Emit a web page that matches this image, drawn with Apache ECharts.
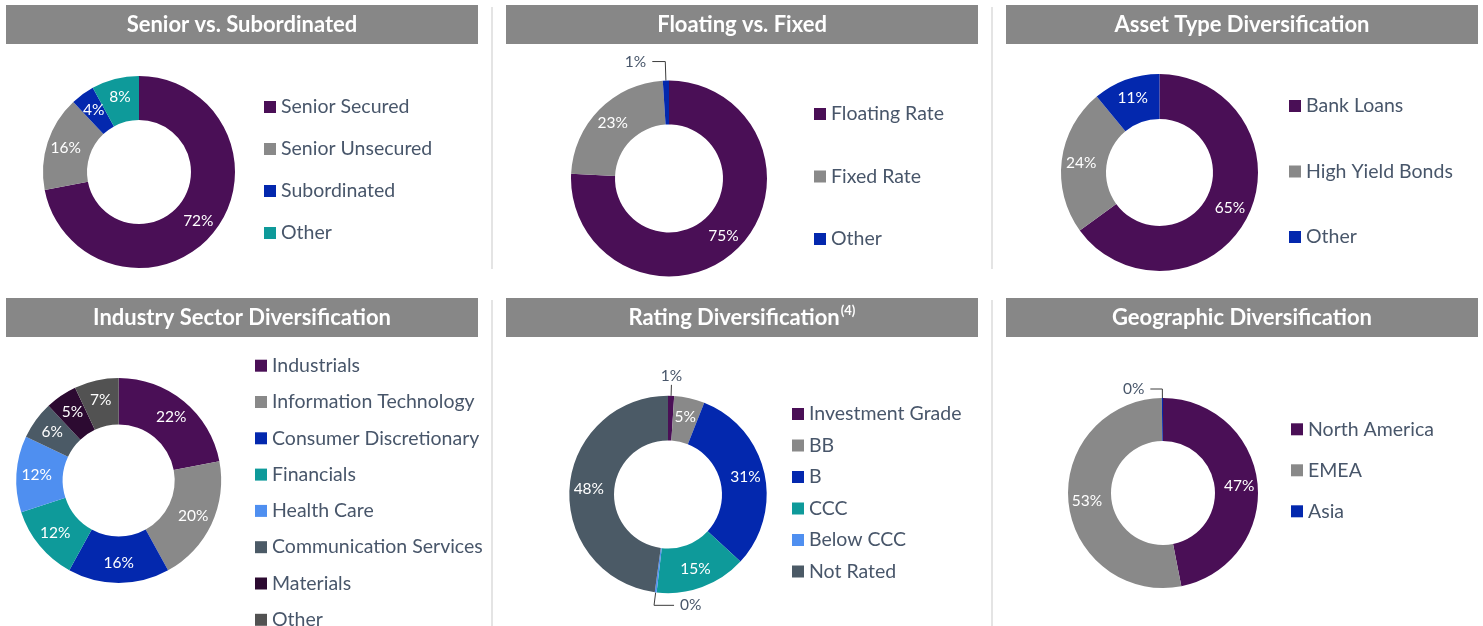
<!DOCTYPE html>
<html>
<head>
<meta charset="utf-8">
<script src="https://cdn.jsdelivr.net/npm/echarts@6/dist/echarts.min.js"></script>
<style>
  html, body { margin: 0; padding: 0; background: #fff; }
  #wrap { position: relative; width: 1483px; height: 626px; overflow: hidden; }
  .panel { position: absolute; width: 484px; }
  .divider { position: absolute; left: 491px; width: 2px; background: #e4e4e4; }
</style>
</head>
<body>
<div id="wrap">
  <div class="panel" id="p1" style="left:0;top:0;height:292px"></div>
  <div class="panel" id="p2" style="left:500px;top:0;height:292px"></div>
  <div class="panel" id="p3" style="left:1000px;top:0;height:292px"></div>
  <div class="panel" id="p4" style="left:0;top:292px;height:380px"></div>
  <div class="panel" id="p5" style="left:500px;top:292px;height:334px"></div>
  <div class="panel" id="p6" style="left:1000px;top:292px;height:334px"></div>
  <div class="divider" style="left:491px;top:7px;height:262px"></div>
  <div class="divider" style="left:991px;top:7px;height:262px"></div>
  <div class="divider" style="left:491px;top:300px;height:326px"></div>
  <div class="divider" style="left:991px;top:300px;height:326px"></div>
</div>
<script>
// data (percent of portfolio)
const seniorNames = ['Senior Secured', 'Senior Unsecured', 'Subordinated', 'Other']
const seniorValues = [72, 16, 4, 8]

const rateNames = ['Floating Rate', 'Fixed Rate', 'Other']
const rateValues = [75, 23, 1]

const assetNames = ['Bank Loans', 'High Yield Bonds', 'Other']
const assetValues = [65, 24, 11]

const sectorNames = ['Industrials', 'Information Technology', 'Consumer Discretionary', 'Financials',
  'Health Care', 'Communication Services', 'Materials', 'Other']
const sectorValues = [22, 20, 16, 12, 12, 6, 5, 7]

const ratingNames = ['Investment Grade', 'BB', 'B', 'CCC', 'Below CCC', 'Not Rated']
const ratingValues = [1, 5, 31, 15, 0.3, 48]

const geoNames = ['North America', 'EMEA', 'Asia']
const geoValues = [47, 53, 0.2]

// colours
const PURPLE = '#4a0f56', GRAY = '#898989', BLUE = '#0328ae', TEAL = '#0e9a9a'
const SKY = '#4f8ff0', SLATE = '#4b5a66', PLUM = '#2c0a31', DARK = '#525252'
const TEXT = '#48566a'
const FONT = 'Lato, "Open Sans", sans-serif'

const panels = [
  { el: 'p1', title: 'Senior vs. Subordinated', names: seniorNames, values: seniorValues,
    colors: [PURPLE, GRAY, BLUE, TEAL], barTop: 5,
    center: [139, 172], radius: [52, 96], legend: { left: 264, top: 97, gap: 22 } },
  { el: 'p2', title: 'Floating vs. Fixed', names: rateNames, values: rateValues,
    colors: [PURPLE, GRAY, BLUE], barTop: 5,
    center: [169, 178.5], radius: [54, 98], legend: { left: 314, top: 104, gap: 42.5 },
    outside: { 2: { mode: 'side', length: 19, length2: 13 } } },
  { el: 'p3', title: 'Asset Type Diversification', names: assetNames, values: assetValues,
    colors: [PURPLE, GRAY, BLUE], barTop: 5,
    center: [159.5, 172.5], radius: [53.5, 98.5], legend: { left: 289, top: 96, gap: 45.5 } },
  { el: 'p4', title: 'Industry Sector Diversification', names: sectorNames, values: sectorValues,
    colors: [PURPLE, GRAY, BLUE, TEAL, SKY, SLATE, PLUM, DARK], barTop: 6,
    center: [118.7, 188.5], radius: [56, 102.5], legend: { left: 255, top: 63.7, gap: 16.3 } },
  { el: 'p5', title: '{a|Rating Diversification}{sup|(4)}', names: ratingNames, values: ratingValues,
    colors: [PURPLE, GRAY, BLUE, TEAL, SKY, SLATE], barTop: 6,
    center: [168, 202.5], radius: [54, 98.7], legend: { left: 292, top: 112, gap: 11.5 },
    outside: { 0: { mode: 'center', length: 11, length2: 0 }, 4: { mode: 'flip', length: 13, length2: 20 } } },
  { el: 'p6', title: 'Geographic Diversification', names: geoNames, values: geoValues,
    colors: [PURPLE, GRAY, BLUE], barTop: 6,
    center: [163, 201], radius: [52, 95], legend: { left: 291, top: 127.3, gap: 21 },
    outside: { 2: { mode: 'side', length: 9, length2: 12 } } }
]

function buildChart(p) {
  const chart = echarts.init(document.getElementById(p.el), null, { renderer: 'canvas' })
  const outside = p.outside || {}

  const data = p.names.map((name, i) => {
    const item = { name: name, value: p.values[i], itemStyle: { color: p.colors[i] } }
    const o = outside[i]
    if (o) {
      item.label = { position: 'outside', color: TEXT, distanceToLabelLine: 6 }
      item.labelLine = { show: true, length: o.length, length2: o.length2,
        lineStyle: { color: '#3c3c3c', width: 1 } }
    }
    return item
  })

  chart.setOption({
    animation: false,
    graphic: [{
      type: 'rect',
      shape: { x: 6, y: p.barTop, width: 472, height: 39 },
      style: { fill: '#878787' },
      z: -1
    }],
    title: {
      text: p.title,
      left: 'center',
      top: p.barTop,
      padding: 0,
      textStyle: {
        color: '#fff', fontSize: 22, fontWeight: 'bold', fontFamily: FONT, lineHeight: 39,
        rich: {
          a: { color: '#fff', fontSize: 22, fontWeight: 'bold', fontFamily: FONT, lineHeight: 39 },
          sup: { color: '#fff', fontSize: 13, fontWeight: 'bold', fontFamily: FONT,
            lineHeight: 13, verticalAlign: 'top', padding: [6, 0, 0, 1] }
        }
      }
    },
    legend: {
      orient: 'vertical',
      left: p.legend.left,
      top: p.legend.top,
      padding: 0,
      itemWidth: 12,
      itemHeight: 12,
      itemGap: p.legend.gap,
      icon: 'rect',
      data: p.names,
      textStyle: { color: TEXT, fontSize: 19.5, fontFamily: FONT, lineHeight: 20 }
    },
    series: [{
      type: 'pie',
      center: p.center,
      radius: p.radius,
      startAngle: 90,
      clockwise: true,
      avoidLabelOverlap: false,
      label: {
        show: true,
        position: 'inside',
        color: '#fff',
        fontSize: 15.5,
        fontFamily: FONT,
        formatter: (prm) => Math.round(prm.value) + '%'
      },
      labelLine: { show: false },
      labelLayout: function (prm) {
        const o = outside[prm.dataIndex]
        const pts = prm.labelLinePoints
        if (!o || !pts) return {}
        if (o.mode === 'center') {
          return { x: pts[1][0], y: pts[1][1] - 1, align: 'center', verticalAlign: 'bottom',
            labelLinePoints: [pts[0], pts[1], pts[1]] }
        }
        if (o.mode === 'flip') {
          const x2 = 2 * pts[1][0] - pts[2][0]
          return { x: x2 + 6, y: pts[2][1], align: 'left', verticalAlign: 'middle',
            labelLinePoints: [pts[0], pts[1], [x2, pts[2][1]]] }
        }
        return {}
      },
      emphasis: { disabled: true },
      data: data
    }]
  })
  return chart
}

panels.forEach(buildChart)
</script>
</body>
</html>
